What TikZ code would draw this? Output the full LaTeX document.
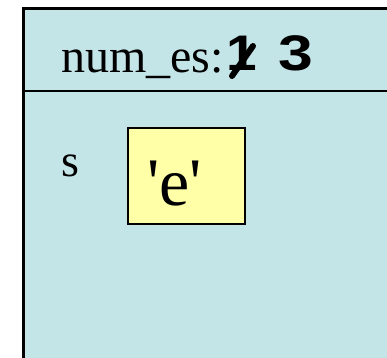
\documentclass[tikz,border=0pt]{standalone}
\usepackage{fontspec}
\setmainfont{Liberation Serif}
\newfontfamily\quotefont[Ligatures=TeXOff]{Liberation Serif}
\newfontfamily\digitfont{Liberation Sans}
\definecolor{framebg}{HTML}{C4E5E8}
\definecolor{cellbg}{HTML}{FFFFA8}
\begin{document}
\begin{tikzpicture}[x=1pt,y=-1pt,
  framestyle/.style={fill=framebg,draw=black,line width=3pt},
  cellstyle/.style={fill=cellbg,draw=black,line width=1.6pt},
  lbl/.style={inner sep=0pt,anchor=base west}]
\useasboundingbox (0,0) rectangle (387,357);
\begin{scope}
\clip (0,0) rectangle (387,357);
\draw[framestyle] (23,8) rectangle (400,370);
\draw[line width=2.5pt] (23,91) -- (400,91);
\end{scope}
\node[lbl] (title) at (61,72) {\fontsize{48}{48}\selectfont num\_es:};
\node[lbl] (one) at (226,70) {\scalebox{1.1}[1]{\fontsize{50}{50}\selectfont\digitfont\bfseries 1}};
\draw[line width=6pt,line cap=round] (232,76) -- (253,46);
\node[lbl] (three) at (278,70) {\scalebox{1.25}[1]{\fontsize{50}{50}\selectfont\digitfont\bfseries 3}};
\node[lbl] (s) at (61,176) {\fontsize{46}{46}\selectfont s};
\node[cellstyle,minimum width=117pt,minimum height=96pt,anchor=north west,inner sep=0pt] (cell) at (127,127) {};
\node[lbl] (e) at (147,205) {\fontsize{68}{68}\selectfont\quotefont 'e'};
\end{tikzpicture}
\end{document}
